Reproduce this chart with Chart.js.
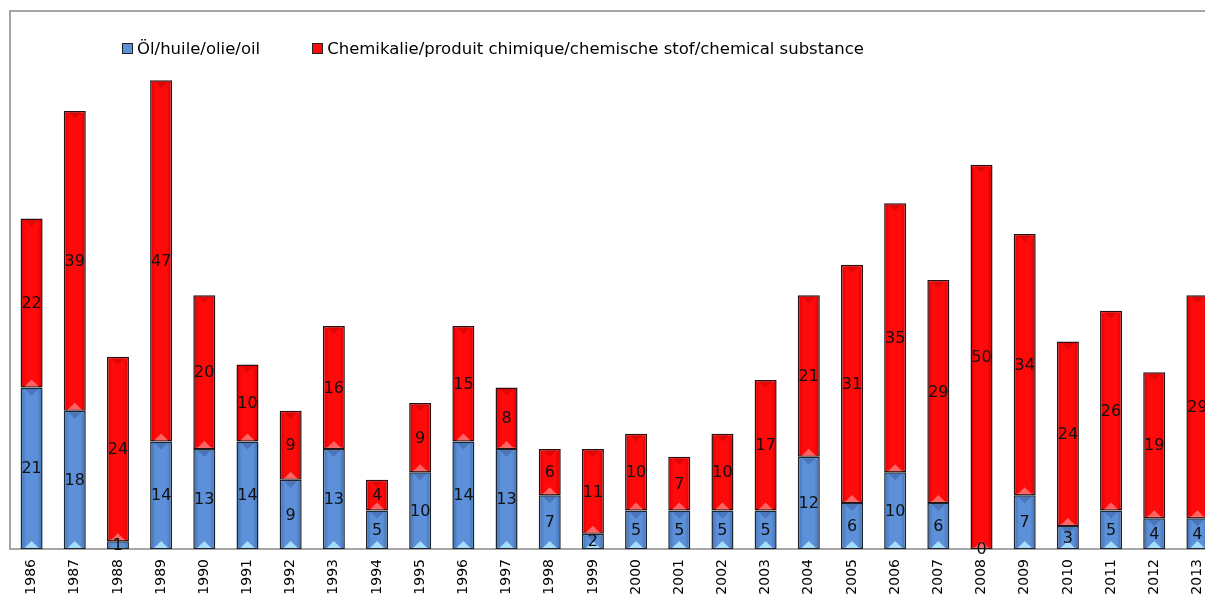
<!DOCTYPE html>
<html>
<head>
<meta charset="utf-8">
<script src="https://cdn.jsdelivr.net/npm/chart.js@4"></script>
<style>
  body { margin: 0; overflow: hidden; background: #fff; font-family: "DejaVu Sans", Verdana, sans-serif; }
  #wrap { position: relative; width: 1219px; height: 605px; }
  #legend { position: absolute; left: 122px; top: 39px; display: flex; font-size: 16.5px; color: #000; }
  .item { display: flex; align-items: center; margin-right: 52px; white-space: nowrap; }
  .box { width: 9px; height: 9px; border: 1px solid #222; margin-right: 4px; }
</style>
</head>
<body>
<div id="wrap">
  <canvas id="chart" width="1219" height="605"></canvas>
  <div id="legend"></div>
</div>
<script>
const years = ['1986','1987','1988','1989','1990','1991','1992','1993','1994','1995','1996','1997','1998','1999',
               '2000','2001','2002','2003','2004','2005','2006','2007','2008','2009','2010','2011','2012','2013'];
const oil = [21, 18, 1, 14, 13, 14, 9, 13, 5, 10, 14, 13, 7, 2, 5, 5, 5, 5, 12, 6, 10, 6, 0, 7, 3, 5, 4, 4];
const chemical = [22, 39, 24, 47, 20, 10, 9, 16, 4, 9, 15, 8, 6, 11, 10, 7, 10, 17, 21, 31, 35, 29, 50, 34, 24, 26, 19, 29];
const seriesNames = ['Öl/huile/olie/oil', 'Chemikalie/produit chimique/chemische stof/chemical substance'];

const barShare = 0.51;

// horizontal shading across each bar, darker at the edges
function barFill(edge, mid) {
    return function (context) {
        const chart = context.chart;
        const xs = chart.scales.x;
        if (!xs || !chart.chartArea) return mid;
        const cx = xs.getPixelForValue(context.dataIndex);
        const half = xs.width / years.length * barShare / 2;
        const g = chart.ctx.createLinearGradient(cx - half, 0, cx + half, 0);
        g.addColorStop(0, edge);
        g.addColorStop(0.25, mid);
        g.addColorStop(0.75, mid);
        g.addColorStop(1, edge);
        return g;
    };
}

const frame = {
    id: 'frame',
    beforeDatasetsDraw(chart) {
        const { ctx, chartArea: a } = chart;
        ctx.save();
        ctx.strokeStyle = '#a6a6a6';
        ctx.lineWidth = 2;
        ctx.beginPath();
        ctx.moveTo(a.left, a.bottom);
        ctx.lineTo(a.left, a.top);
        ctx.lineTo(a.right + 5, a.top);
        ctx.stroke();
        ctx.restore();
    }
};

const bevels = {
    id: 'bevels',
    afterDatasetsDraw(chart) {
        const ctx = chart.ctx;
        const shades = [['rgba(170,225,255,0.95)', 'rgba(40,70,130,0.35)'], ['rgba(255,110,110,0.9)', 'rgba(150,0,0,0.3)']];
        chart.data.datasets.forEach((ds, di) => {
            chart.getDatasetMeta(di).data.forEach(bar => {
                const h = bar.base - bar.y;
                if (h < 10) return;
                const w = bar.width * 0.32;
                ctx.save();
                ctx.fillStyle = shades[di][0];
                ctx.beginPath();
                ctx.moveTo(bar.x - w, bar.base - 1);
                ctx.lineTo(bar.x + w, bar.base - 1);
                ctx.lineTo(bar.x, bar.base - 8);
                ctx.closePath();
                ctx.fill();
                ctx.fillStyle = shades[di][1];
                ctx.beginPath();
                ctx.moveTo(bar.x - w, bar.y + 1);
                ctx.lineTo(bar.x + w, bar.y + 1);
                ctx.lineTo(bar.x, bar.y + 8);
                ctx.closePath();
                ctx.fill();
                ctx.restore();
            });
        });
    }
};

const valueLabels = {
    id: 'valueLabels',
    afterDatasetsDraw(chart) {
        const ctx = chart.ctx;
        ctx.save();
        ctx.font = '16px "DejaVu Sans"';
        ctx.fillStyle = '#111';
        ctx.textAlign = 'center';
        ctx.textBaseline = 'middle';
        chart.data.datasets.forEach((ds, di) => {
            chart.getDatasetMeta(di).data.forEach((bar, i) => {
                ctx.fillText(String(ds.data[i]), bar.x, (bar.y + bar.base) / 2 + 1);
            });
        });
        ctx.restore();
    }
};

new Chart(document.getElementById('chart'), {
    type: 'bar',
    data: {
        labels: years,
        datasets: [
            {
                label: seriesNames[0],
                data: oil,
                backgroundColor: barFill('#3f6eb3', '#5c90d8'),
                borderColor: '#1b2530',
                borderWidth: 1.5,
                borderSkipped: false
            },
            {
                label: seriesNames[1],
                data: chemical,
                backgroundColor: barFill('#d80000', '#ff0a0a'),
                borderColor: '#2a1010',
                borderWidth: 1.5,
                borderSkipped: false
            }
        ]
    },
    options: {
        responsive: false,
        animation: false,
        layout: { padding: { left: 10, top: 11, right: 0, bottom: 0 } },
        datasets: { bar: { categoryPercentage: 1, barPercentage: barShare } },
        plugins: { legend: { display: false }, tooltip: { enabled: false } },
        scales: {
            x: {
                stacked: true,
                grid: { display: false },
                border: { display: true, color: '#a6a6a6', width: 2 },
                ticks: {
                    color: '#000',
                    font: { family: 'DejaVu Sans', size: 14 },
                    minRotation: 90,
                    maxRotation: 90,
                    padding: 2,
                    autoSkip: false
                },
                afterFit(scale) { scale.height = 56; }
            },
            y: {
                stacked: true,
                display: false,
                min: 0,
                max: 70
            }
        }
    },
    plugins: [frame, bevels, valueLabels]
});

const legend = document.getElementById('legend');
const legendColors = ['#5c90d8', '#ff0a0a'];
seriesNames.forEach((name, i) => {
    const item = document.createElement('div');
    item.className = 'item';
    const box = document.createElement('span');
    box.className = 'box';
    box.style.background = legendColors[i];
    item.appendChild(box);
    item.appendChild(document.createTextNode(name));
    legend.appendChild(item);
});
</script>
</body>
</html>
